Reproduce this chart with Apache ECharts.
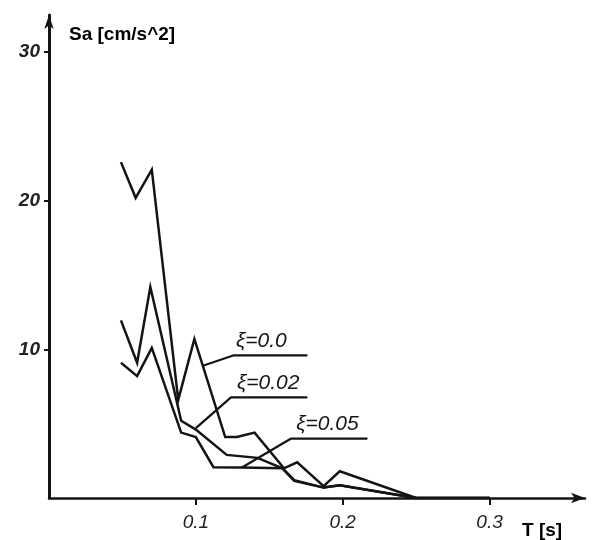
<!DOCTYPE html>
<html>
<head>
<meta charset="utf-8">
<script src="https://cdn.jsdelivr.net/npm/echarts@6/dist/echarts.min.js"></script>
<style>
  html, body { margin: 0; padding: 0; background: #fff; }
  #chart { width: 596px; height: 540px; }
</style>
</head>
<body>
<div id="chart"></div>
<script>
// 阻尼比 ξ=0.0
var xi0T  = [0.049, 0.059, 0.070, 0.088, 0.099, 0.120, 0.128, 0.140, 0.160, 0.169, 0.187, 0.198, 0.250, 0.300]
var xi0Sa = [22.6, 20.2, 22.1, 6.6, 10.7, 4.1, 4.1, 4.4, 2.0, 2.4, 0.8, 1.8, 0.0, 0.0]
// ξ=0.02
var xi2T  = [0.049, 0.060, 0.069, 0.090, 0.100, 0.121, 0.142, 0.159, 0.167, 0.187, 0.198, 0.250, 0.300]
var xi2Sa = [11.95, 9.1, 14.2, 5.2, 4.6, 2.9, 2.7, 2.0, 1.2, 0.7, 0.85, 0.0, 0.0]
// ξ=0.05
var xi5T  = [0.049, 0.060, 0.070, 0.090, 0.100, 0.112, 0.131, 0.159, 0.167, 0.187, 0.198, 0.250, 0.300]
var xi5Sa = [9.1, 8.2, 10.1, 4.4, 4.1, 2.07, 2.05, 2.0, 1.15, 0.7, 0.85, 0.0, 0.0]

// 标注引线 (起点, 拐点, 终点)
var lead0T  = [0.1048, 0.1259, 0.1758]
var lead0Sa = [8.9, 9.6, 9.6]
var lead2T  = [0.100, 0.1239, 0.1758]
var lead2Sa = [4.7, 6.77, 6.77]
var lead5T  = [0.1314, 0.1649, 0.2167]
var lead5Sa = [2.05, 4.0, 4.0]

var labels = ['ξ=0.0', 'ξ=0.02', 'ξ=0.05']
var yTicks = [10, 20, 30]
var xTicks = [0.1, 0.2, 0.3]

var lineColor = '#141414'

function pairs(t, s) {
  return t.map(function (v, i) { return [v, s[i]] })
}

function leader(t, s, text, dx) {
  var d = pairs(t, s)
  d[1] = {
    value: d[1],
    label: {
      show: true,
      formatter: text,
      position: 'top',
      align: 'left',
      distance: 3,
      offset: [dx, 0],
      fontFamily: 'Liberation Sans',
      fontStyle: 'italic',
      fontSize: 21,
      color: lineColor
    }
  }
  return {
    type: 'line',
    data: d,
    symbol: 'circle',
    symbolSize: 1,
    showSymbol: true,
    itemStyle: { color: lineColor },
    silent: true,
    lineStyle: { color: lineColor, width: 2.2 },
    z: 3
  }
}

function curve(t, s) {
  return {
    type: 'line',
    data: pairs(t, s),
    symbol: 'none',
    silent: true,
    lineStyle: { color: lineColor, width: 2.5, join: 'miter' }
  }
}

var myChart = echarts.init(document.getElementById('chart'))

var option = {
  backgroundColor: '#ffffff',
  animation: false,
  title: [
    {
      text: 'Sa [cm/s^2]',
      left: 64,
      top: 20,
      textStyle: { fontFamily: 'Liberation Sans', fontWeight: 'bold', fontSize: 19, color: '#000' }
    },
    {
      text: 'T [s]',
      left: 517,
      top: 516,
      textStyle: { fontFamily: 'Liberation Sans', fontWeight: 'bold', fontSize: 19, color: '#000' }
    }
  ],
  grid: { left: 49, right: 11, top: 15, bottom: 42, containLabel: false },
  xAxis: {
    type: 'value',
    min: 0,
    max: 0.365,
    interval: 0.1,
    axisLine: { show: true, symbol: ['none', 'arrow'], symbolSize: [8, 14], lineStyle: { color: lineColor, width: 2.5 } },
    axisTick: { show: true, customValues: xTicks, length: 7, lineStyle: { color: lineColor, width: 2 } },
    splitLine: { show: false },
    axisLabel: {
      customValues: xTicks,
      margin: 15,
      fontFamily: 'Liberation Sans',
      fontStyle: 'italic',
      fontSize: 19,
      color: '#222',
      formatter: function (v) { return v.toFixed(1) }
    }
  },
  yAxis: {
    type: 'value',
    min: 0,
    max: 32.5,
    interval: 10,
    axisLine: { show: true, symbol: ['none', 'arrow'], symbolSize: [7, 14], lineStyle: { color: lineColor, width: 3 } },
    axisTick: { show: true, customValues: yTicks, length: 5, lineStyle: { color: lineColor, width: 2 } },
    splitLine: { show: false },
    axisLabel: {
      customValues: yTicks,
      margin: 9,
      fontFamily: 'Liberation Sans',
      fontStyle: 'italic',
      fontWeight: 'bold',
      fontSize: 19,
      color: '#222'
    }
  },
  series: [
    curve(xi0T, xi0Sa),
    curve(xi2T, xi2Sa),
    curve(xi5T, xi5Sa),
    leader(lead0T, lead0Sa, labels[0], 2),
    leader(lead2T, lead2Sa, labels[1], 6),
    leader(lead5T, lead5Sa, labels[2], 5)
  ]
}

myChart.setOption(option, true)
</script>
</body>
</html>
